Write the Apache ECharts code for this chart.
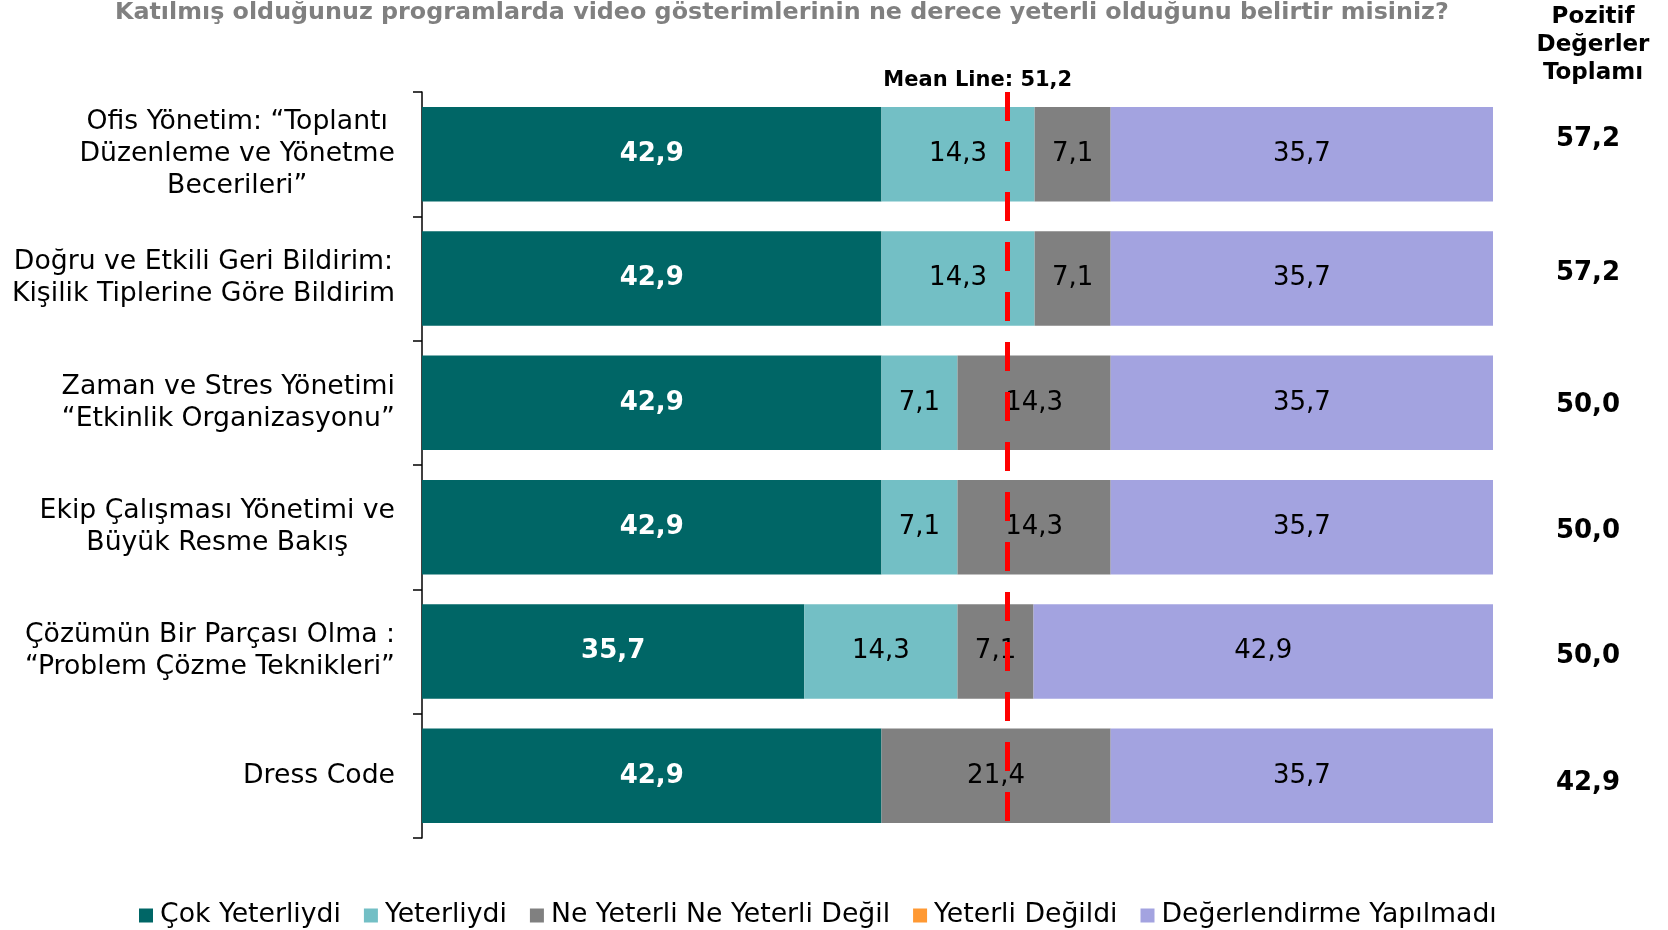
<!DOCTYPE html>
<html>
<head>
<meta charset="utf-8">
<title>Video gösterimleri</title>
<script src="https://cdn.jsdelivr.net/npm/echarts/dist/echarts.min.js"></script>
<style>
  body { margin: 0; background: #fff; }
  #chart { width: 1668px; height: 930px; }
</style>
</head>
<body>
<div id="chart"></div>
<script>
var categories = [
  'Ofis Yönetim: “Toplantı\nDüzenleme ve Yönetme\nBecerileri”',
  'Doğru ve Etkili Geri Bildirim:\nKişilik Tiplerine Göre Bildirim',
  'Zaman ve Stres Yönetimi\n“Etkinlik Organizasyonu”',
  'Ekip Çalışması Yönetimi ve\nBüyük Resme Bakış',
  'Çözümün Bir Parçası Olma :\n“Problem Çözme Teknikleri”',
  'Dress Code'
];
var seriesNames = ['Çok Yeterliydi', 'Yeterliydi', 'Ne Yeterli Ne Yeterli Değil', 'Yeterli Değildi', 'Değerlendirme Yapılmadı'];
var cokYeterliydi = [42.9, 42.9, 42.9, 42.9, 35.7, 42.9];
var yeterliydi = [14.3, 14.3, 7.1, 7.1, 14.3, 0];
var neYeterliNeDegil = [7.1, 7.1, 14.3, 14.3, 7.1, 21.4];
var yeterliDegildi = [0, 0, 0, 0, 0, 0];
var degerlendirmeYok = [35.7, 35.7, 35.7, 35.7, 42.9, 35.7];
var pozitifToplam = [57.2, 57.2, 50.0, 50.0, 50.0, 42.9];
var meanValue = 51.2;
var meanLinePos = 54.6;   // where the dashed line sits in the picture

var colors = ['#006666', '#73BFC5', '#808080', '#FF9933', '#A3A3E0'];
var font = 'DejaVu Sans, Verdana, sans-serif';
// totals don't sit exactly on the bar centres in the original (px, + = up)
var totalLift = [15, 5, -2, -4, -5, -7];

function fmt(v) {
  return v.toFixed(1).replace('.', ',');
}

var chart = echarts.init(document.getElementById('chart'));

var allData = [cokYeterliydi, yeterliydi, neYeterliNeDegil, yeterliDegildi, degerlendirmeYok];
var series = [];
for (var i = 0; i < allData.length; i++) {
  var s = {
    name: seriesNames[i],
    type: 'bar',
    stack: 'total',
    barCategoryGap: '24%',
    data: allData[i],
    itemStyle: { color: colors[i] },
    label: {
      show: true,
      position: 'inside',
      fontFamily: font,
      fontSize: 26,
      color: i == 0 ? '#fff' : '#000',
      fontWeight: i == 0 ? 'bold' : 'normal',
      formatter: function (p) { return p.value ? fmt(p.value) : ''; }
    }
  };
  if (i == 0) {
    s.markLine = {
      silent: true,
      symbol: 'none',
      z: 10,
      lineStyle: { color: '#FF0000', width: 5, type: [29, 21] },
      label: {
        position: 'start',   // y axis is inverted, so start = top
        distance: 1,
        formatter: 'Mean Line: ' + fmt(meanValue),
        fontFamily: font,
        fontWeight: 'bold',
        fontSize: 21,
        color: '#000',
        padding: [0, 58, 0, 0]
      },
      data: [{ xAxis: meanLinePos }]
    };
  }
  series.push(s);
}

// rich styles for the totals column: an empty extra line shifts the value up or down
var totalRich = {
  b: { fontFamily: font, fontSize: 26, fontWeight: 'bold', color: '#000', lineHeight: 30 }
};
for (var k = 0; k < totalLift.length; k++) {
  if (totalLift[k]) totalRich['g' + k] = { fontSize: 2, lineHeight: Math.abs(totalLift[k]) * 2 };
}

var option = {
  animation: false,
  title: [
    {
      text: 'Katılmış olduğunuz programlarda video gösterimlerinin ne derece yeterli olduğunu belirtir misiniz?',
      left: 110,
      top: -4,
      textStyle: { fontFamily: font, fontSize: 23.8, fontWeight: 'bold', color: '#808080' }
    },
    {
      text: 'Pozitif\nDeğerler\nToplamı',
      left: 1588,
      top: -2,
      textAlign: 'center',
      textStyle: { fontFamily: font, fontSize: 23, fontWeight: 'bold', color: '#000', lineHeight: 28 }
    }
  ],
  legend: {
    data: seriesNames,
    left: 134,
    top: 897,
    icon: 'rect',
    itemWidth: 14,
    itemHeight: 14,
    itemGap: 23,
    textStyle: { fontFamily: font, fontSize: 26.7, color: '#000', padding: [0, 0, 0, 2] }
  },
  grid: { left: 422, right: 175, top: 92, bottom: 92 },
  xAxis: { type: 'value', min: 0, max: 100, show: false },
  yAxis: [
    {
      type: 'category',
      data: categories,
      inverse: true,
      axisLine: { lineStyle: { color: '#000', width: 1.5 } },
      axisTick: { show: true, inside: false, length: 9, lineStyle: { color: '#000', width: 1.5 } },
      axisLabel: {
        margin: 27,
        formatter: function (v) {
          return v.split('\n').map(function (l) { return '{c|' + l + '}'; }).join('\n');
        },
        rich: {
          c: { align: 'center', fontFamily: font, fontSize: 26.7, lineHeight: 32, color: '#000' }
        }
      }
    },
    {
      // totals column on the right
      type: 'category',
      data: pozitifToplam.map(fmt),
      inverse: true,
      position: 'right',
      axisLine: { show: false },
      axisTick: { show: false },
      axisLabel: {
        margin: 95,
        align: 'center',
        formatter: function (v, idx) {
          var t = '{b|' + v + '}';
          var gap = '{g' + idx + '| }';
          if (totalLift[idx] > 0) t = t + '\n' + gap;
          else if (totalLift[idx] < 0) t = gap + '\n' + t;
          return t;
        },
        rich: totalRich
      }
    }
  ],
  series: series
};

chart.setOption(option);
</script>
</body>
</html>
